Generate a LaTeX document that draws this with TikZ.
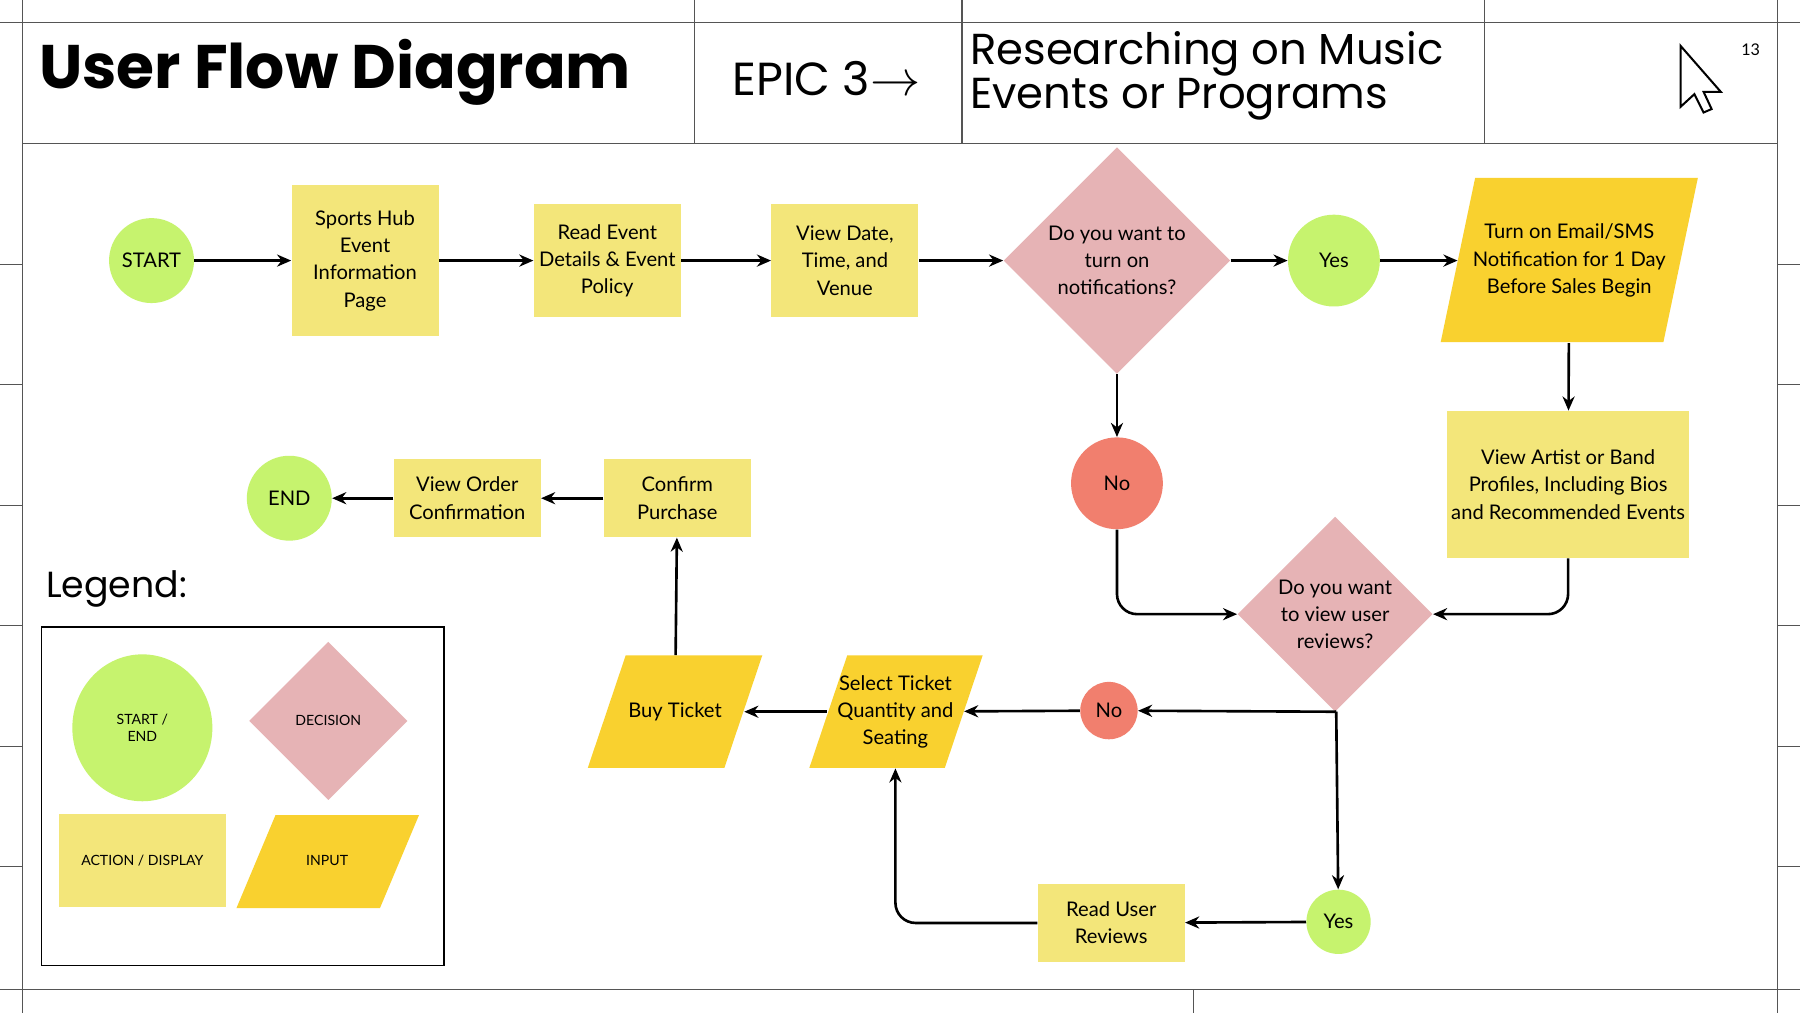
\documentclass[tikz,border=0pt]{standalone}
\usepackage{fontspec}
\setmainfont{Lato}
\newfontfamily\titlefont{Poppins}
\usetikzlibrary{shapes.geometric,arrows.meta}
\definecolor{startgreen}{HTML}{C6F36E}
\definecolor{actyellow}{HTML}{F3E67A}
\definecolor{decpink}{HTML}{E6B3B5}
\definecolor{nored}{HTML}{F17F6E}
\definecolor{inputgold}{HTML}{F9D12F}
\definecolor{framegray}{HTML}{555555}
\begin{document}
\begin{tikzpicture}[x=0.02cm,y=-0.02cm,
    every node/.style={font=\fontsize{10}{13.5}\selectfont,align=center,inner sep=1pt},
    term/.style={circle,fill=startgreen,minimum size=#1},
    answer/.style={circle,fill=nored,minimum size=#1},
    action/.style={rectangle,fill=actyellow,minimum width=2.56cm,minimum height=#1},
    decision/.style={diamond,fill=decpink,minimum width=#1,minimum height=#1,aspect=1},
    input/.style={rectangle,minimum width=#1},
    inputfill/.style={fill=inputgold},
    flow/.style={-{Stealth[length=7pt,width=6pt]},line width=1.3pt,rounded corners=10pt},
    gridline/.style={draw=framegray,line width=0.5pt}]
\useasboundingbox (0,0) rectangle (1568,882);
\fill[white] (0,0) rectangle (1568,882);
% frame
\draw[gridline] (0,20) -- (1568,20);
\draw[gridline] (20,125) -- (1548,125);
\draw[gridline] (0,862) -- (1568,862);
\draw[gridline] (20,0) -- (20,882);
\draw[gridline] (1548,0) -- (1548,882);
\foreach \gx in {605,838,1293} \draw[gridline] (\gx,0) -- (\gx,125);
\draw[gridline] (1040,862) -- (1040,882);
\foreach \gy in {230,335,440,545,650,755} {
  \draw[gridline] (0,\gy) -- (20,\gy);
  \draw[gridline] (1548,\gy) -- (1568,\gy);
}
% header
\node[anchor=west,font=\titlefont\bfseries\fontsize{30.5}{33}\selectfont] (title) at (32,63) {User Flow Diagram};
\node[anchor=west,font=\titlefont\fontsize{23}{25}\selectfont] (epic) at (636,68) {EPIC 3$\rightarrow$};
\node[anchor=west,font=\titlefont\fontsize{21.5}{17}\selectfont,align=left] (topic) at (843,66) {Researching on Music\\Events or Programs};
\node[font=\fontsize{8}{9}\selectfont] (page) at (1525,43) {13};
\draw[line width=1pt,fill=white] (1464,40) -- (1464,93) -- (1476,82) -- (1484,98) -- (1491,95) -- (1484,80) -- (1499,80) -- cycle;
% input parallelograms
\fill[inputfill] (1255,298) -- (1285,155) -- (1479,155) -- (1449,298) -- cycle;
\fill[inputfill] (705,669) -- (738,571) -- (856,571) -- (823,669) -- cycle;
\fill[inputfill] (512,669) -- (545,571) -- (664,571) -- (631,669) -- cycle;
\fill[inputfill] (206,791) -- (240,710) -- (365,710) -- (331,791) -- cycle;
% flow
\node[term=1.48cm] (start) at (132,227) {START};
\node[action=2.62cm] (hub) at (318,227) {Sports Hub\\Event\\Information\\Page};
\node[action=1.98cm] (details) at (529,227) {Read Event\\Details \& Event\\Policy};
\node[action=1.98cm] (venue) at (736,227) {View Date,\\Time, and\\Venue};
\node[decision=3.95cm] (notify) at (973,227) {Do you want to\\turn on\\notifications?};
\node[term=1.6cm] (yes1) at (1162,227) {Yes};
\node[input=3.88cm,minimum height=2.86cm] (sms) at (1367,227) {Turn on Email/SMS\\Notification for 1 Day\\Before Sales Begin};
\node[action=2.56cm,minimum width=4.22cm] (profiles) at (1366,422) {View Artist or Band\\Profiles, Including Bios\\and Recommended Events};
\node[answer=1.6cm] (no1) at (973,421) {No};
\node[decision=3.4cm] (reviews) at (1163,535) {Do you want\\to view user\\reviews?};
\node[answer=1cm] (no2) at (966,619) {No};
\node[input=2.38cm,minimum height=1.96cm] (select) at (780,620) {Select Ticket\\Quantity and\\Seating};
\node[input=2.4cm,minimum height=1.96cm] (buy) at (588,620) {Buy Ticket};
\node[action=1.36cm] (confirm) at (590,434) {Confirm\\Purchase};
\node[action=1.36cm] (order) at (407,434) {View Order\\Confirmation};
\node[term=1.48cm] (end) at (252,434) {END};
\node[term=1.12cm] (yes2) at (1166,803) {Yes};
\node[action=1.36cm] (read) at (968,804) {Read User\\Reviews};
\coordinate (split) at (1164,620);
\draw[flow] (start) -- (hub);
\draw[flow] (hub) -- (details);
\draw[flow] (details) -- (venue);
\draw[flow] (venue) -- (notify);
\draw[flow] (notify) -- (yes1);
\draw[flow] (yes1) -- (sms);
\draw[flow] (sms) -- (profiles);
\draw[flow] (notify) -- (no1);
\draw[flow] (no1) |- (reviews.west);
\draw[flow] (profiles) |- (reviews.east);
\draw[line width=1.3pt] (reviews.south) -- (split);
\draw[flow] (split) -- (no2);
\draw[flow] (split) -- (yes2);
\draw[flow] (no2) -- (select);
\draw[flow] (select) -- (buy);
\draw[flow] (buy) -- (confirm);
\draw[flow] (confirm) -- (order);
\draw[flow] (order) -- (end);
\draw[flow] (yes2) -- (read);
\draw[flow] (read) -| (select.south);
% legend
\node[anchor=west,font=\titlefont\fontsize{18}{20}\selectfont] (legend) at (38,513) {Legend:};
\draw[line width=0.8pt] (36,546) rectangle (387,841);
\node[ellipse,fill=startgreen,minimum width=2.44cm,minimum height=2.56cm,font=\fontsize{7}{8.5}\selectfont] (lgterm) at (124,634) {START /\\END};
\node[decision=2.76cm,font=\fontsize{7}{8.5}\selectfont] (lgdec) at (286,628) {DECISION};
\node[action=1.62cm,minimum width=2.9cm,font=\fontsize{7}{8.5}\selectfont] (lgact) at (124,750) {ACTION / DISPLAY};
\node[input=2.5cm,minimum height=1.62cm,font=\fontsize{7}{8.5}\selectfont] (lginput) at (285,750) {INPUT};
\end{tikzpicture}
\end{document}
